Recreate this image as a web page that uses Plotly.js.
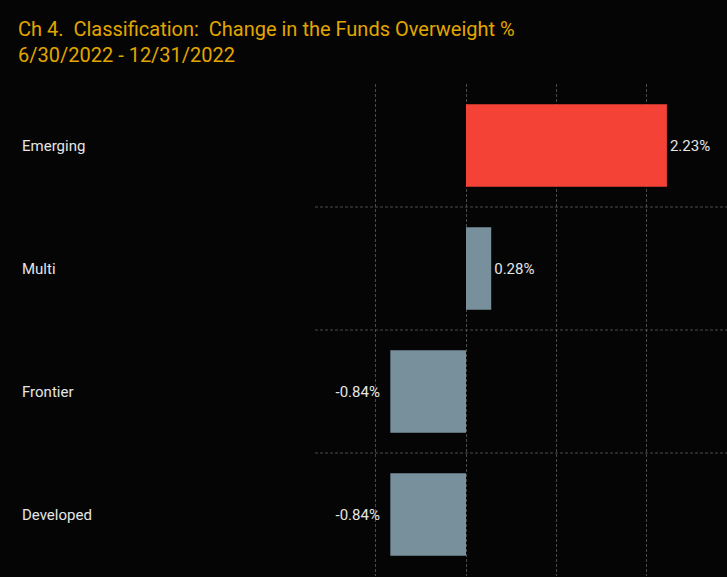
<!DOCTYPE html>
<html>
<head>
<meta charset="utf-8">
<script src="https://cdn.plot.ly/plotly-3.0.1.min.js"></script>
<style>
html,body{margin:0;padding:0;background:#050505;}
#chart{width:727px;height:577px;}
</style>
</head>
<body>
<div id="chart"></div>
<script>
var categories = ["Emerging", "Multi", "Frontier", "Developed"];
var values = [2.23, 0.28, -0.84, -0.84];
var barColors = ["#F44336", "#78909C", "#78909C", "#78909C"];
var titleLine1 = "Ch 4.  Classification:  Change in the Funds Overweight %";
var titleLine2 = "6/30/2022 - 12/31/2022";
var labels = values.map(function(v){
  var s = v.toFixed(2) + "%";
  return v < 0 ? s + "\u00a0\u00a0" : s;
});

var FONT = "Roboto, 'Open Sans', sans-serif";
var W = 727, H = 577;
var mL = 315, mR = 0, mT = 84, mB = 1;
var plotW = W - mL - mR;
var plotH = H - mT - mB;

var trace = {
  type: "bar",
  orientation: "h",
  y: categories,
  x: values,
  marker: {color: barColors},
  width: 0.67,
  text: labels,
  textposition: "outside",
  cliponaxis: false,
  textfont: {family: FONT, size: 15, color: "#E6E6E6"},
  hoverinfo: "none"
};

function pyToPaper(py){ return (H - mB - py) / plotH; }

var annotations = categories.map(function(c){
  return {
    xref: "paper", yref: "y",
    x: (20 - mL) / plotW, y: c,
    xanchor: "left", yanchor: "middle",
    text: c, showarrow: false,
    font: {family: FONT, size: 15, color: "#E6E6E6"}
  };
});
annotations.push({
  xref: "paper", yref: "paper",
  x: (16 - mL) / plotW, y: pyToPaper(29),
  xanchor: "left", yanchor: "middle",
  text: titleLine1, showarrow: false,
  font: {family: FONT, size: 20, color: "#E2A600"}
});
annotations.push({
  xref: "paper", yref: "paper",
  x: (16 - mL) / plotW, y: pyToPaper(55),
  xanchor: "left", yanchor: "middle",
  text: titleLine2, showarrow: false,
  font: {family: FONT, size: 20, color: "#E2A600"}
});

var shapes = [];
for (var i = 0; i < categories.length - 1; i++) {
  shapes.push({
    type: "line", xref: "paper", yref: "y",
    x0: 0, x1: 1, y0: i + 0.5, y1: i + 0.5,
    line: {color: "#4a4a4a", width: 1, dash: "3px,2px"},
    layer: "below"
  });
}

var layout = {
  width: W, height: H,
  paper_bgcolor: "#050505",
  plot_bgcolor: "#050505",
  margin: {l: mL, r: mR, t: mT, b: mB, pad: 0},
  showlegend: false,
  xaxis: {
    range: [-1.676, 2.897],
    tickvals: [-1, 0, 1, 2],
    showticklabels: false,
    showgrid: true,
    gridcolor: "#4a4a4a",
    griddash: "3px,2px",
    gridwidth: 1,
    zeroline: false,
    showline: false,
    ticks: ""
  },
  yaxis: {
    type: "category",
    categoryorder: "array",
    categoryarray: categories,
    autorange: "reversed",
    showticklabels: false,
    showgrid: false,
    zeroline: false,
    showline: false,
    ticks: ""
  },
  annotations: annotations,
  shapes: shapes
};

Plotly.newPlot("chart", [trace], layout, {displayModeBar: false, staticPlot: true});
</script>
</body>
</html>
